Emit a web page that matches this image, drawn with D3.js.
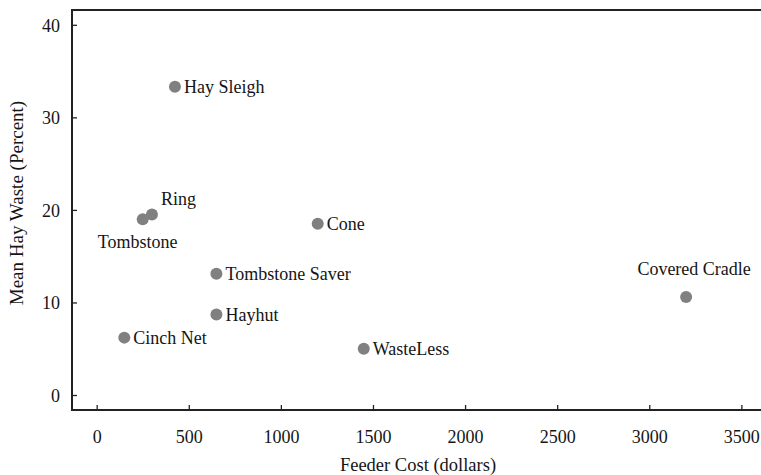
<!DOCTYPE html>
<html>
<head>
<meta charset="utf-8">
<script src="https://cdn.jsdelivr.net/npm/d3@7"></script>
<style>
	body { margin: 0; background: #fff; }
</style>
</head>
<body>
<svg id="chart" width="761" height="475"></svg>
<script>
// feeder names, cost (dollars) and mean hay waste (percent)
var feeders = ["Hay Sleigh", "Ring", "Tombstone", "Cone", "Tombstone Saver", "Hayhut", "Cinch Net", "WasteLess", "Covered Cradle"];
var costs = [425, 300, 250, 1200, 650, 650, 150, 1450, 3200];
var waste = [33.3, 19.5, 19.0, 18.5, 13.1, 8.7, 6.2, 5.0, 10.6];
var xTicks = [0, 500, 1000, 1500, 2000, 2500, 3000, 3500];
var yTicks = [0, 10, 20, 30, 40];

var serif = "'Liberation Serif', 'Times New Roman', Times, serif";
var ink = "#151515";

var svg = d3.select("#chart");
// plot box (window.top is taken, so own names)
var plotLeft = 72, plotTop = 10, plotBottom = 410, plotRight = 769;

var x = d3.scaleLinear().domain([-134, 3650]).range([plotLeft, plotRight]);
var y = d3.scaleLinear().domain([-1.62, 41.6]).range([plotBottom, plotTop]);

// where each label sits relative to its dot
var place = {
	"Ring": {dx: 9, dy: -10, anchor: "start"},
	"Tombstone": {dx: -5, dy: 29, anchor: "middle"},
	"Covered Cradle": {dx: 8, dy: -22, anchor: "middle"}
};

// axes, ticks pointing inward
var xAxis = d3.axisBottom(x).tickValues(xTicks).tickFormat(d3.format("d"))
	.tickSizeInner(-5).tickSizeOuter(0).tickPadding(14);
var yAxis = d3.axisLeft(y).tickValues(yTicks).tickFormat(d3.format("d"))
	.tickSizeInner(-5).tickSizeOuter(0).tickPadding(12);

var gx = svg.append("g").attr("transform", "translate(0," + plotBottom + ")").call(xAxis);
var gy = svg.append("g").attr("transform", "translate(" + plotLeft + ",0)").call(yAxis);
[gx, gy].forEach(function(g){
	g.select(".domain").remove();
	g.selectAll(".tick line").attr("stroke", "#222").attr("stroke-width", 1.3);
	g.selectAll(".tick text")
		.style("font-family", serif)
		.style("font-size", "18px")
		.attr("fill", ink);
});
gx.selectAll(".tick text").attr("dy", "1.05em");
gy.selectAll(".tick text").attr("dy", "0.36em");

// frame: left, top, bottom (right side runs off the picture)
svg.append("path")
	.attr("d", "M" + (plotRight + 5) + "," + plotTop + "H" + plotLeft + "V" + plotBottom + "H" + (plotRight + 5))
	.attr("fill", "none")
	.attr("stroke", "#222")
	.attr("stroke-width", 2);

// points
var rows = feeders.map(function(f, i){ return {name: f, cost: costs[i], waste: waste[i]}; });

svg.selectAll(".dot").data(rows)
	.enter()
	.append("circle")
	.attr("class", "dot")
	.attr("cx", function(d){ return x(d.cost); })
	.attr("cy", function(d){ return y(d.waste); })
	.attr("r", 6)
	.attr("fill", "#808080");

svg.selectAll(".lbl").data(rows)
	.enter()
	.append("text")
	.attr("class", "lbl")
	.attr("x", function(d){
		var p = place[d.name];
		return x(d.cost) + (p ? p.dx : 9);
	})
	.attr("y", function(d){
		var p = place[d.name];
		return y(d.waste) + (p ? p.dy : 0);
	})
	.attr("dy", function(d){ return place[d.name] ? 0 : "0.34em"; })
	.attr("text-anchor", function(d){
		var p = place[d.name];
		return p ? p.anchor : "start";
	})
	.style("font-family", serif)
	.style("font-size", "18px")
	.attr("fill", ink)
	.text(function(d){ return d.name; });

// axis titles
svg.append("text")
	.attr("x", 418)
	.attr("y", 471)
	.attr("text-anchor", "middle")
	.style("font-family", serif)
	.style("font-size", "18.5px")
	.attr("fill", ink)
	.text("Feeder Cost (dollars)");

svg.append("text")
	.attr("transform", "translate(23,203) rotate(-90)")
	.attr("text-anchor", "middle")
	.style("font-family", serif)
	.style("font-size", "19px")
	.attr("fill", ink)
	.text("Mean Hay Waste (Percent)");
</script>
</body>
</html>
